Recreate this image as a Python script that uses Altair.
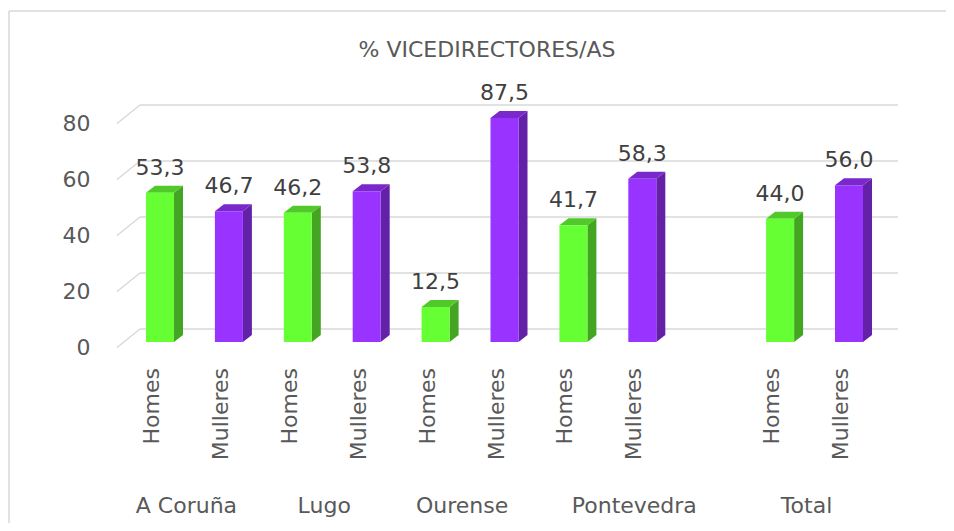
import altair as alt
import pandas as pd

# ---- data ----
regions = ["A Coruña", "A Coruña", "Lugo", "Lugo", "Ourense", "Ourense",
           "Pontevedra", "Pontevedra", "Pontevedra", "Total", "Total"]
genders = ["Homes", "Mulleres", "Homes", "Mulleres", "Homes", "Mulleres",
           "Homes", "Mulleres", "", "Homes", "Mulleres"]
values = [53.3, 46.7, 46.2, 53.8, 12.5, 87.5, 41.7, 58.3, None, 44.0, 56.0]
y_ticks = [0, 20, 40, 60, 80]
title_text = "% VICEDIRECTORES/AS"

gender_domain = ["Homes", "Mulleres"]
front_colors = ["#66FF33", "#9933FF"]
side_colors = ["#43A521", "#6321A8"]
top_colors = ["#52C92A", "#7A28CC"]

# ---- styling / geometry constants ----
FONT = "DejaVu Sans"
W, H = 781, 224
Y_MAX = 80
HALF = 0.2032   # half bar width (slot units)
DX = 0.1306     # 3D depth in x (slot units)
DY = 2.5        # 3D depth in y (value units)

df = pd.DataFrame({"region": regions, "gender": genders, "value": values})
ticks_df = pd.DataFrame({"t": y_ticks})

xscale = alt.Scale(domain=[-0.624, 10.711], nice=False, zero=False)
yscale = alt.Scale(domain=[0, Y_MAX], nice=False, zero=True)
yaxis = alt.Axis(values=y_ticks, title=None, domain=False, ticks=False, tickSize=0,
                 grid=False, labelPadding=27, labelOffset=5, labelFont=FONT,
                 labelFontSize=22, labelColor="#595959")


def Y(field):
    return alt.Y(field, scale=yscale, axis=yaxis, title=None)


def gcolor(rng):
    return alt.Color("gender:N", scale=alt.Scale(domain=gender_domain, range=rng), legend=None)


base = (alt.Chart(df)
        .transform_window(rn="row_number()")
        .transform_calculate(slot="datum.rn - 1"))

bars = (base.transform_filter("isValid(datum.value)")
        .transform_calculate(vc=f"min(datum.value, {Y_MAX})",
                             L=f"datum.slot - {HALF}",
                             R=f"datum.slot + {HALF}",
                             zero="0",
                             lab="replace(format(datum.value, '.1f'), '.', ',')"))

# back grid lines and left diagonal ticks
grid = alt.Chart(ticks_df).mark_rule(color="#D9D9D9", strokeWidth=1.5, yOffset=-13).encode(
    y=Y("t:Q"), x=alt.value(23), x2=alt.value(W))
diag = alt.Chart(ticks_df).mark_rule(color="#D9D9D9", strokeWidth=1.5, yOffset=5.5, y2Offset=-13).encode(
    y=Y("t:Q"), y2="t:Q", x=alt.value(0), x2=alt.value(23))

# side faces (parallelograms)
side = (bars.transform_calculate(k="[0, 1]").transform_flatten(["k"])
        .transform_calculate(px=f"datum.R + datum.k * {DX}",
                             py=f"datum.vc + datum.k * {DY}",
                             py2=f"datum.k * {DY}")
        .mark_area(orient="vertical")
        .encode(x=alt.X("px:Q", scale=xscale, axis=None),
                y=Y("py:Q"), y2="py2:Q",
                detail="slot:N", color=gcolor(side_colors)))

# top faces
top = (bars.transform_calculate(k="[0, 1, 2, 3]").transform_flatten(["k"])
       .transform_calculate(
           px=f"datum.L + (datum.k == 1 ? {DX} : datum.k == 2 ? {2*HALF} : datum.k == 3 ? {2*HALF + DX} : 0)",
           py=f"datum.vc + (datum.k == 0 ? 0 : {DY})",
           py2=f"datum.vc + (datum.k == 3 ? {DY} : 0)")
       .mark_area(orient="vertical")
       .encode(x=alt.X("px:Q", scale=xscale, axis=None),
               y=Y("py:Q"), y2="py2:Q",
               detail="slot:N", color=gcolor(top_colors)))

# front faces
front = bars.mark_rect().encode(
    x=alt.X("L:Q", scale=xscale, axis=None), x2="R:Q",
    y=Y("vc:Q"), y2="zero:Q",
    color=gcolor(front_colors))

# value labels
vlabels = bars.mark_text(font=FONT, fontSize=22, color="#404040", baseline="alphabetic",
                         align="center", dy=-18).encode(
    x=alt.X("slot:Q", scale=xscale, axis=None),
    y=Y("vc:Q"),
    text="lab:N")

# rotated gender labels
glabels = (base.transform_filter("datum.gender != ''")
           .mark_text(font=FONT, fontSize=22, color="#595959", angle=270, align="right",
                      baseline="middle", xOffset=-8)
           .encode(x=alt.X("slot:Q", scale=xscale, axis=None), y=alt.value(250), text="gender:N"))

# region labels
rlabels = (base.transform_aggregate(cx="mean(slot)", groupby=["region"])
           .mark_text(font=FONT, fontSize=22, color="#595959", align="center",
                      baseline="alphabetic", xOffset=-8)
           .encode(x=alt.X("cx:Q", scale=xscale, axis=None), y=alt.value(395), text="region:N"))

# title
title = alt.Chart(pd.DataFrame({"txt": [title_text]})).mark_text(
    font=FONT, fontSize=22, color="#595959", align="center", baseline="alphabetic").encode(
    x=alt.value(370), y=alt.value(-61), text="txt:N")

# chart frame (top and left edges; the rest lies outside the window)
frame_df = pd.DataFrame({"a": [0]})
frame_top = alt.Chart(frame_df).mark_rule(color="#D9D9D9", strokeWidth=1.5).encode(
    x=alt.value(-108), x2=alt.value(W + 60), y=alt.value(-107))
frame_left = alt.Chart(frame_df).mark_rule(color="#D9D9D9", strokeWidth=1.5).encode(
    x=alt.value(-108), y=alt.value(-107), y2=alt.value(H + 200))

chart = (alt.layer(frame_top, frame_left, grid, diag, side, top, front, vlabels,
                   glabels, rlabels, title)
         .resolve_scale(color="independent")
         .properties(width=W, height=H, autosize="none",
                     padding={"left": 109, "top": 110, "right": 48, "bottom": 181})
         .configure_view(strokeWidth=0))

chart.save("out.html", embed_options={"renderer": "svg", "actions": False})
